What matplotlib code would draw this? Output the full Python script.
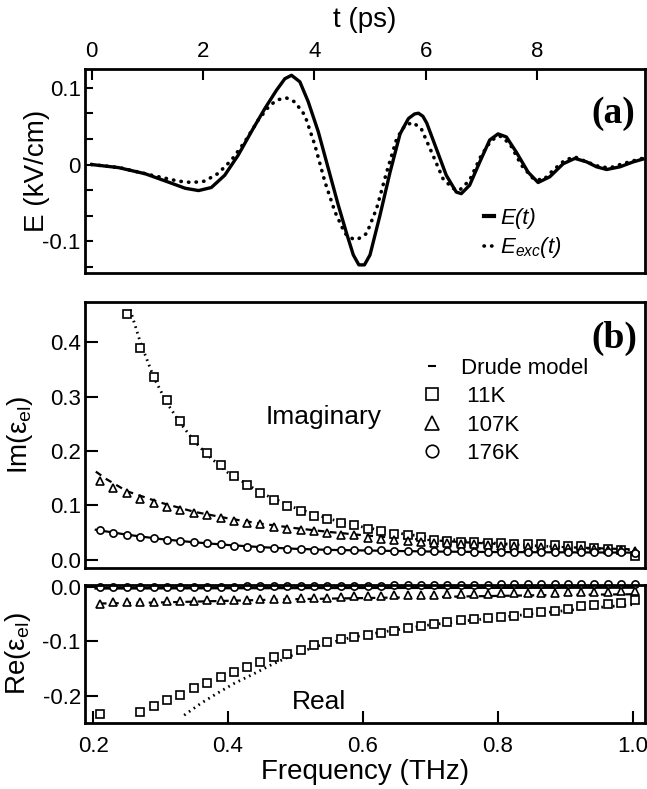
import numpy as np
import matplotlib
matplotlib.use("Agg")
import matplotlib.pyplot as plt
from matplotlib.lines import Line2D
from matplotlib.ticker import FixedLocator

plt.rcParams["font.family"] = ["Liberation Sans", "DejaVu Sans"]
plt.rcParams["mathtext.fontset"] = "custom"
plt.rcParams["mathtext.rm"] = "Liberation Sans"
plt.rcParams["mathtext.it"] = "Liberation Sans:italic"
plt.rcParams["axes.unicode_minus"] = False

# ---- panel (a): time-domain fields ----
t_E = [0, 0.48, 0.96, 1.38, 1.68, 1.92, 2.15, 2.39, 2.63, 2.87, 3.11, 3.32, 3.47, 3.59, 3.74,
       3.89, 4.07, 4.25, 4.43, 4.58, 4.70, 4.80, 4.90, 5.00, 5.18, 5.36, 5.54, 5.69, 5.80, 5.87,
       5.95, 6.02, 6.19, 6.37, 6.55, 6.64, 6.79, 6.97, 7.15, 7.30, 7.45, 7.63, 7.84, 8.02, 8.23,
       8.47, 8.68, 8.89, 9.07, 9.25, 9.49, 9.73, 9.90]
E_t = [0, -0.004, -0.012, -0.023, -0.031, -0.034, -0.030, -0.014, 0.012, 0.043, 0.073, 0.097,
       0.112, 0.1165, 0.108, 0.082, 0.043, -0.005, -0.053, -0.090, -0.118, -0.131, -0.131, -0.118,
       -0.066, -0.010, 0.040, 0.060, 0.066, 0.067, 0.063, 0.054, 0.021, -0.014, -0.036, -0.038,
       -0.027, 0.003, 0.032, 0.040, 0.036, 0.016, -0.010, -0.0235, -0.016, 0.001, 0.008, 0.0035,
       -0.003, -0.0065, -0.003, 0.0035, 0.007]

t_exc = [0, 0.50, 1.08, 1.56, 1.80, 2.03, 2.27, 2.51, 2.75, 2.99, 3.20, 3.35, 3.50, 3.65, 3.83,
         4.01, 4.19, 4.37, 4.55, 4.70, 4.78, 4.94, 5.12, 5.30, 5.48, 5.63, 5.77, 5.92, 6.13, 6.31,
         6.49, 6.61, 6.79, 7.00, 7.18, 7.33, 7.51, 7.72, 7.93, 8.11, 8.29, 8.50, 8.68, 8.89, 9.13,
         9.31, 9.55, 9.88]
E_exc = [0, -0.004, -0.014, -0.0217, -0.0235, -0.0217, -0.0117, 0.0057, 0.0296, 0.0578, 0.0774,
         0.0847, 0.0869, 0.0817, 0.0643, 0.0252, -0.0226, -0.0617, -0.090, -0.0975, -0.0975, -0.090,
         -0.057, -0.0096, 0.0339, 0.0513, 0.0548, 0.0469, 0.0122, -0.0183, -0.0313, -0.0335, -0.0204,
         0.0122, 0.0317, 0.0374, 0.0274, -0.0009, -0.0183, -0.0204, -0.0074, 0.0057, 0.010, 0.0035,
         -0.003, -0.0043, 0.0013, 0.0078]

# ---- panel (b): measured permittivity ----
freq = [0.210, 0.230, 0.250, 0.270, 0.290, 0.309, 0.329, 0.349, 0.369, 0.389, 0.409, 0.428,
        0.448, 0.468, 0.488, 0.508, 0.527, 0.547, 0.567, 0.587, 0.607, 0.626, 0.646, 0.666,
        0.686, 0.706, 0.725, 0.745, 0.765, 0.785, 0.805, 0.824, 0.844, 0.864, 0.884, 0.904,
        0.923, 0.943, 0.963, 0.983, 1.003]

im_11K = [0.452, 0.390, 0.336, 0.293, 0.255, 0.221, 0.196, 0.175, 0.154, 0.138, 0.123, 0.110,
          0.099, 0.090, 0.080, 0.074, 0.068, 0.063, 0.057, 0.053, 0.048, 0.045, 0.042, 0.037,
          0.035, 0.033, 0.032, 0.031, 0.030, 0.029, 0.029, 0.028, 0.027, 0.026, 0.0245, 0.022,
          0.019, 0.017, 0.006]  # starts at 0.250 THz
im_107K = [0.144, 0.131, 0.123, 0.112, 0.105, 0.097, 0.091, 0.086, 0.082, 0.076, 0.072, 0.068,
           0.065, 0.060, 0.056, 0.054, 0.052, 0.049, 0.046, 0.045, 0.040, 0.038, 0.036, 0.034,
           0.033, 0.031, 0.030, 0.029, 0.028, 0.027, 0.026, 0.025, 0.024, 0.023, 0.022, 0.021,
           0.020, 0.019, 0.018, 0.017, 0.016]
im_176K = [0.054, 0.050, 0.046, 0.042, 0.039, 0.037, 0.034, 0.032, 0.030, 0.028, 0.026, 0.024,
           0.022, 0.021, 0.020, 0.019, 0.018, 0.018, 0.017, 0.017, 0.017, 0.017, 0.016, 0.016,
           0.016, 0.016, 0.016, 0.016, 0.015, 0.015, 0.015, 0.015, 0.015, 0.015, 0.014, 0.014,
           0.014, 0.014, 0.014, 0.014, 0.013]

re_11K_freq = [0.210] + freq[3:]
re_11K = [-0.233, -0.230, -0.219, -0.209, -0.198, -0.186, -0.176, -0.166, -0.157, -0.147, -0.138,
          -0.130, -0.123, -0.116, -0.108, -0.101, -0.097, -0.093, -0.089, -0.085, -0.081, -0.076,
          -0.072, -0.068, -0.065, -0.062, -0.060, -0.058, -0.056, -0.053, -0.049, -0.047, -0.044,
          -0.041, -0.036, -0.033, -0.031, -0.030, -0.025]
re_107K = [-0.031, -0.029, -0.028, -0.029, -0.028, -0.027, -0.027, -0.026, -0.025, -0.025, -0.024,
           -0.024, -0.023, -0.023, -0.022, -0.021, -0.021, -0.020, -0.019, -0.018, -0.017, -0.017,
           -0.016, -0.016, -0.015, -0.015, -0.014, -0.014, -0.013, -0.013, -0.012, -0.012, -0.011,
           -0.011, -0.011, -0.010, -0.010, -0.009, -0.009, -0.008, -0.008]
re_176K = [0.000, 0.000, 0.000, 0.000, 0.000, 0.000, 0.000, 0.000, 0.000, 0.000, 0.000, 0.001,
           0.001, 0.001, 0.001, 0.001, 0.002, 0.002, 0.002, 0.002, 0.002, 0.002, 0.003, 0.003,
           0.003, 0.003, 0.003, 0.003, 0.003, 0.003, 0.004, 0.004, 0.004, 0.004, 0.004, 0.004,
           0.004, 0.004, 0.004, 0.004, 0.004]

# ---- Drude model fits ----
drude_im_11K_f = [0.255, 0.27, 0.29, 0.31, 0.33, 0.35, 0.37, 0.40, 0.45, 0.50, 0.55, 0.60, 0.65,
                  0.70, 0.75, 0.80, 0.85, 0.90, 0.95, 1.00]
drude_im_11K = [0.46, 0.40, 0.335, 0.287, 0.250, 0.218, 0.192, 0.160, 0.122, 0.095, 0.075, 0.060,
                0.049, 0.041, 0.035, 0.030, 0.026, 0.023, 0.020, 0.018]
drude_im_107K_f = [0.204, 0.22, 0.25, 0.30, 0.35, 0.40, 0.45, 0.50, 0.55, 0.60, 0.65, 0.70, 0.75,
                   0.80, 0.85, 0.90, 0.95, 1.00]
drude_im_107K = [0.162, 0.148, 0.126, 0.105, 0.088, 0.076, 0.066, 0.058, 0.051, 0.045, 0.040,
                 0.036, 0.032, 0.029, 0.026, 0.023, 0.021, 0.019]
drude_im_176K_f = [0.204, 0.25, 0.30, 0.35, 0.40, 0.45, 0.50, 0.55, 0.60, 0.70, 0.80, 0.90, 1.00]
drude_im_176K = [0.055, 0.046, 0.038, 0.032, 0.027, 0.023, 0.020, 0.018, 0.017, 0.015, 0.014,
                 0.0135, 0.013]

drude_re_11K_f = [0.335, 0.36, 0.385, 0.41, 0.435, 0.465, 0.495, 0.53, 0.58, 0.63, 0.70, 0.75,
                  0.80, 0.85, 0.90, 0.95, 1.00]
drude_re_11K = [-0.236, -0.214, -0.195, -0.177, -0.162, -0.143, -0.126, -0.110, -0.094, -0.083,
                -0.070, -0.063, -0.057, -0.050, -0.044, -0.038, -0.033]
drude_re_107K_f = [0.21, 0.30, 0.40, 0.50, 0.60, 0.70, 0.80, 0.90, 1.00]
drude_re_107K = [-0.031, -0.029, -0.026, -0.023, -0.021, -0.019, -0.017, -0.015, -0.014]
drude_re_176K_f = [0.204, 0.40, 0.60, 0.80, 1.00]
drude_re_176K = [-0.003, -0.0025, -0.002, -0.0018, -0.0015]

W, H = 647, 789
fig = plt.figure(figsize=(W / 100, H / 100), dpi=100)
axA = fig.add_axes([85 / W, 1 - 273 / H, 560 / W, 204 / H])
axIm = fig.add_axes([85 / W, 1 - 568 / H, 560 / W, 266 / H])
axRe = fig.add_axes([85 / W, 1 - 723 / H, 560 / W, 138 / H])

TICK = 16
LAB = 20
for ax in (axA, axIm, axRe):
    for sp in ax.spines.values():
        sp.set_linewidth(2.0)

# panel (a)
dots = (0, (0.1, 2.0))
axA.plot(t_E, E_t, color="black", lw=2.4, solid_joinstyle="round")
axA.plot(t_exc, E_exc, color="black", lw=2.6, linestyle=dots, dash_capstyle="round")
axA.set_xlim(-0.12, 9.94)
axA.set_ylim(-0.1416, 0.1247)
axA.xaxis.tick_top()
axA.xaxis.set_label_position("top")
axA.set_xticks([0, 2, 4, 6, 8])
axA.set_xticklabels(["0", "2", "4", "6", "8"])
axA.set_yticks([-0.1, 0, 0.1])
axA.set_yticklabels(["-0.1", "0", "0.1"])
axA.yaxis.set_minor_locator(FixedLocator([-4 / 30, -2 / 30, -1 / 30, 1 / 30, 2 / 30]))
axA.tick_params(axis="x", which="major", direction="in", length=8, width=1.5,
                labelsize=TICK, pad=5, top=True, bottom=False)
axA.tick_params(axis="y", which="both", direction="in", length=6, width=1.5,
                labelsize=TICK, pad=3, right=False)
axA.set_xlabel("t (ps)", fontsize=LAB, labelpad=10)
axA.set_ylabel("E (kV/cm)", fontsize=LAB)
axA.yaxis.set_label_coords(-0.0625, 0.5)
axA.text(0.982, 0.735, "(a)", transform=axA.transAxes, ha="right", va="baseline",
         fontsize=27, fontweight="bold", family="Liberation Serif")
axA.legend(
    [Line2D([], [], color="black", lw=3),
     Line2D([], [], color="black", lw=2.6, linestyle=dots, dash_capstyle="round")],
    ["E(t)", r"E$_{\mathregular{exc}}$(t)"],
    loc="upper left", bbox_to_anchor=(0.712, 0.32), frameon=False,
    handlelength=0.45, handletextpad=0.3, labelspacing=0.3, borderpad=0, borderaxespad=0,
    prop={"style": "italic", "size": 16})

# panel (b) imaginary part
f11 = freq[2:]
mk = dict(linestyle="none", markerfacecolor="white", markeredgecolor="black",
          markeredgewidth=1.2)
axIm.plot(drude_im_11K_f, drude_im_11K, color="black", lw=2.0, linestyle=(0, (0.6, 1.5)))
axIm.plot(drude_im_107K_f, drude_im_107K, color="black", lw=1.6, linestyle=(0, (3, 2.5)))
axIm.plot(drude_im_176K_f, drude_im_176K, color="black", lw=1.6)
axIm.plot(f11, im_11K, marker="s", markersize=5.2, clip_on=False, **mk)
axIm.plot(freq, im_107K, marker="^", markersize=5.8, clip_on=False, **mk)
axIm.plot(freq, im_176K, marker="o", markersize=5.2, clip_on=False, **mk)
axIm.set_xlim(0.188, 1.018)
axIm.set_ylim(-0.0153, 0.474)
axIm.set_yticks([0.0, 0.1, 0.2, 0.3, 0.4])
axIm.set_yticklabels(["0.0", "0.1", "0.2", "0.3", "0.4"])
axIm.set_xticks([])
axIm.tick_params(axis="y", direction="in", length=9, width=1.5, labelsize=TICK, pad=3,
                 right=False)
axIm.set_ylabel(r"Im(ε$_{\mathregular{el}}$)", fontsize=LAB)
axIm.yaxis.set_label_coords(-0.089, 0.5)
axIm.text(0.456, 0.249, "Imaginary", fontsize=19, ha="left", va="baseline")
axIm.text(0.986, 0.827, "(b)", transform=axIm.transAxes, ha="right", va="baseline",
          fontsize=27, fontweight="bold", family="Liberation Serif")
axIm.legend(
    [Line2D([], [], color="black", marker="_", markersize=6, markeredgewidth=1.5,
            linestyle="none"),
     Line2D([], [], marker="s", markersize=9, **mk),
     Line2D([], [], marker="^", markersize=10, **mk),
     Line2D([], [], marker="o", markersize=9, **mk)],
    ["Drude model", " 11K", " 107K", " 176K"],
    loc="upper left", bbox_to_anchor=(0.6, 0.79), frameon=False,
    handlelength=1.0, handletextpad=0.8, labelspacing=0.33, borderpad=0, borderaxespad=0,
    fontsize=16)

# panel (b) real part
axRe.plot(drude_re_11K_f, drude_re_11K, color="black", lw=2.0, linestyle=(0, (0.6, 1.5)))
axRe.plot(drude_re_107K_f, drude_re_107K, color="black", lw=1.6, linestyle=(0, (3, 2.5)))
axRe.plot(drude_re_176K_f, drude_re_176K, color="black", lw=2.0)
axRe.plot(re_11K_freq, re_11K, marker="s", markersize=5.2, clip_on=False, **mk)
axRe.plot(freq, re_107K, marker="^", markersize=5.8, clip_on=False, **mk)
axRe.plot(freq, re_176K, marker="o", markersize=5.2, clip_on=False, **mk)
axRe.set_xlim(0.188, 1.018)
axRe.set_ylim(-0.2503, 0.003)
axRe.set_xticks([0.2, 0.4, 0.6, 0.8, 1.0])
axRe.set_xticklabels(["0.2", "0.4", "0.6", "0.8", "1.0"])
axRe.set_yticks([-0.2, -0.1, 0.0])
axRe.set_yticklabels(["-0.2", "-0.1", "0.0"])
axRe.tick_params(axis="x", direction="in", length=9, width=1.5, labelsize=TICK, pad=9,
                 top=False)
axRe.tick_params(axis="y", direction="in", length=9, width=1.5, labelsize=TICK, pad=3,
                 right=False)
axRe.set_xlabel("Frequency (THz)", fontsize=LAB, labelpad=2)
axRe.set_ylabel(r"Re(ε$_{\mathregular{el}}$)", fontsize=LAB)
axRe.yaxis.set_label_coords(-0.0929, 0.5)
axRe.text(0.494, -0.224, "Real", fontsize=19, ha="left", va="baseline")

fig.savefig("out.png", dpi=100)
